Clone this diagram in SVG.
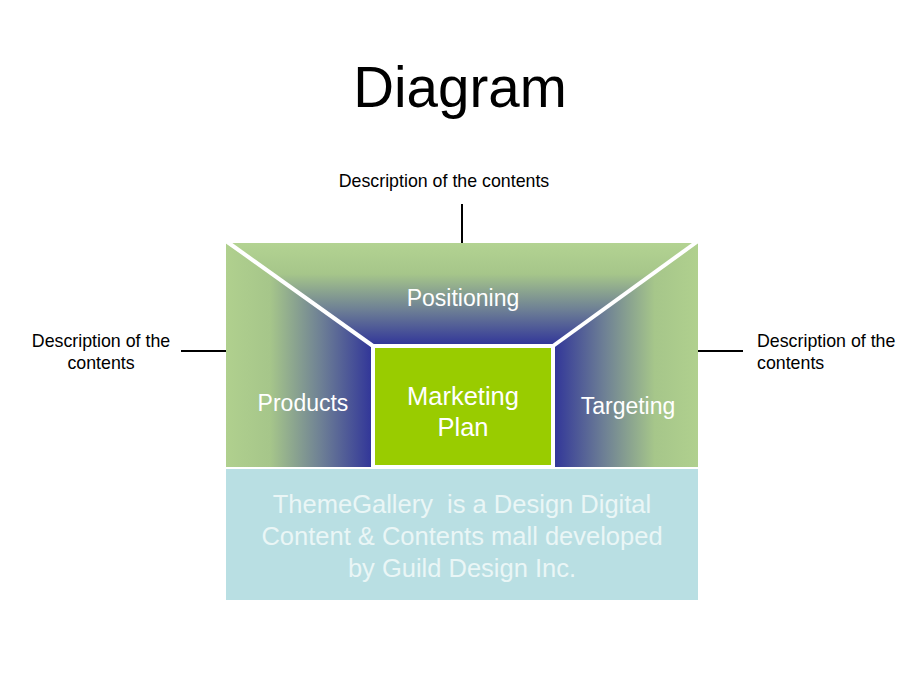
<svg xmlns="http://www.w3.org/2000/svg" width="920" height="690" viewBox="0 0 920 690">
<style>
text{font-family:"Liberation Sans",Arial,sans-serif}
.desc{font-size:17.8px;fill:#000}
.lbl{font-size:23px;fill:#ffffff;text-anchor:middle}
.conn{stroke:#000;stroke-width:2;fill:none}
.sep{stroke:#ffffff;stroke-width:4;fill:none}
.body{font-size:25.5px;fill:#eaf6f6;text-anchor:middle}
</style>
<defs>
<linearGradient id="gL" x1="226" y1="0" x2="373" y2="0" gradientUnits="userSpaceOnUse">
<stop offset="0" stop-color="#b0d08e"/><stop offset="0.3" stop-color="#a6c68a"/><stop offset="0.65" stop-color="#6d7f95"/><stop offset="1" stop-color="#303499"/>
</linearGradient>
<linearGradient id="gR" x1="698" y1="0" x2="553" y2="0" gradientUnits="userSpaceOnUse">
<stop offset="0" stop-color="#b0d08e"/><stop offset="0.3" stop-color="#a6c68a"/><stop offset="0.65" stop-color="#6d7f95"/><stop offset="1" stop-color="#303499"/>
</linearGradient>
<linearGradient id="gT" x1="0" y1="243" x2="0" y2="346" gradientUnits="userSpaceOnUse">
<stop offset="0" stop-color="#b3d392"/><stop offset="0.3" stop-color="#a6c68a"/><stop offset="0.65" stop-color="#6d7f95"/><stop offset="1" stop-color="#303499"/>
</linearGradient>
</defs>
<rect width="920" height="690" fill="#ffffff"/>
<text x="460" y="107" font-size="56.5" text-anchor="middle" fill="#000">Diagram</text>
<g id="connectors">
<line class="conn" x1="462" y1="204" x2="462" y2="243"/>
<line class="conn" x1="181" y1="351" x2="227" y2="351"/>
<line class="conn" x1="697" y1="351" x2="743" y2="351"/>
</g>
<g id="desc-top"><text class="desc" x="444" y="187" text-anchor="middle">Description of the contents</text></g>
<g id="desc-left"><text class="desc" x="101" y="347" text-anchor="middle">Description of the</text><text class="desc" x="101" y="369" text-anchor="middle">contents</text></g>
<g id="desc-right"><text class="desc" x="757" y="347">Description of the</text><text class="desc" x="757" y="369">contents</text></g>
<g id="positioning">
<polygon points="226,243 698,243 553,346 373,346" fill="url(#gT)"/>
<text class="lbl" x="463" y="306">Positioning</text>
</g>
<g id="products">
<polygon points="226,243 373,346 373,467 226,467" fill="url(#gL)"/>
<text class="lbl" x="303" y="411">Products</text>
</g>
<g id="targeting">
<polygon points="698,243 553,346 553,467 698,467" fill="url(#gR)"/>
<text class="lbl" x="628" y="414">Targeting</text>
</g>
<g id="separators">
<line class="sep" x1="226" y1="241" x2="373" y2="346"/>
<line class="sep" x1="698" y1="241" x2="553" y2="346"/>
</g>
<g id="marketing-plan">
<rect x="373" y="346" width="180" height="121" fill="#99cc00" stroke="#ffffff" stroke-width="4"/>
<text x="463" y="405" font-size="25.5" fill="#fff" text-anchor="middle">Marketing</text>
<text x="463" y="436" font-size="25.5" fill="#fff" text-anchor="middle">Plan</text>
</g>
<g id="themegallery">
<rect x="226" y="469" width="472" height="131" fill="#b9dfe3"/>
<text class="body" x="462" y="513" xml:space="preserve">ThemeGallery  is a Design Digital</text>
<text class="body" x="462" y="545">Content &amp; Contents mall developed</text>
<text class="body" x="462" y="577">by Guild Design Inc.</text>
</g>
</svg>
